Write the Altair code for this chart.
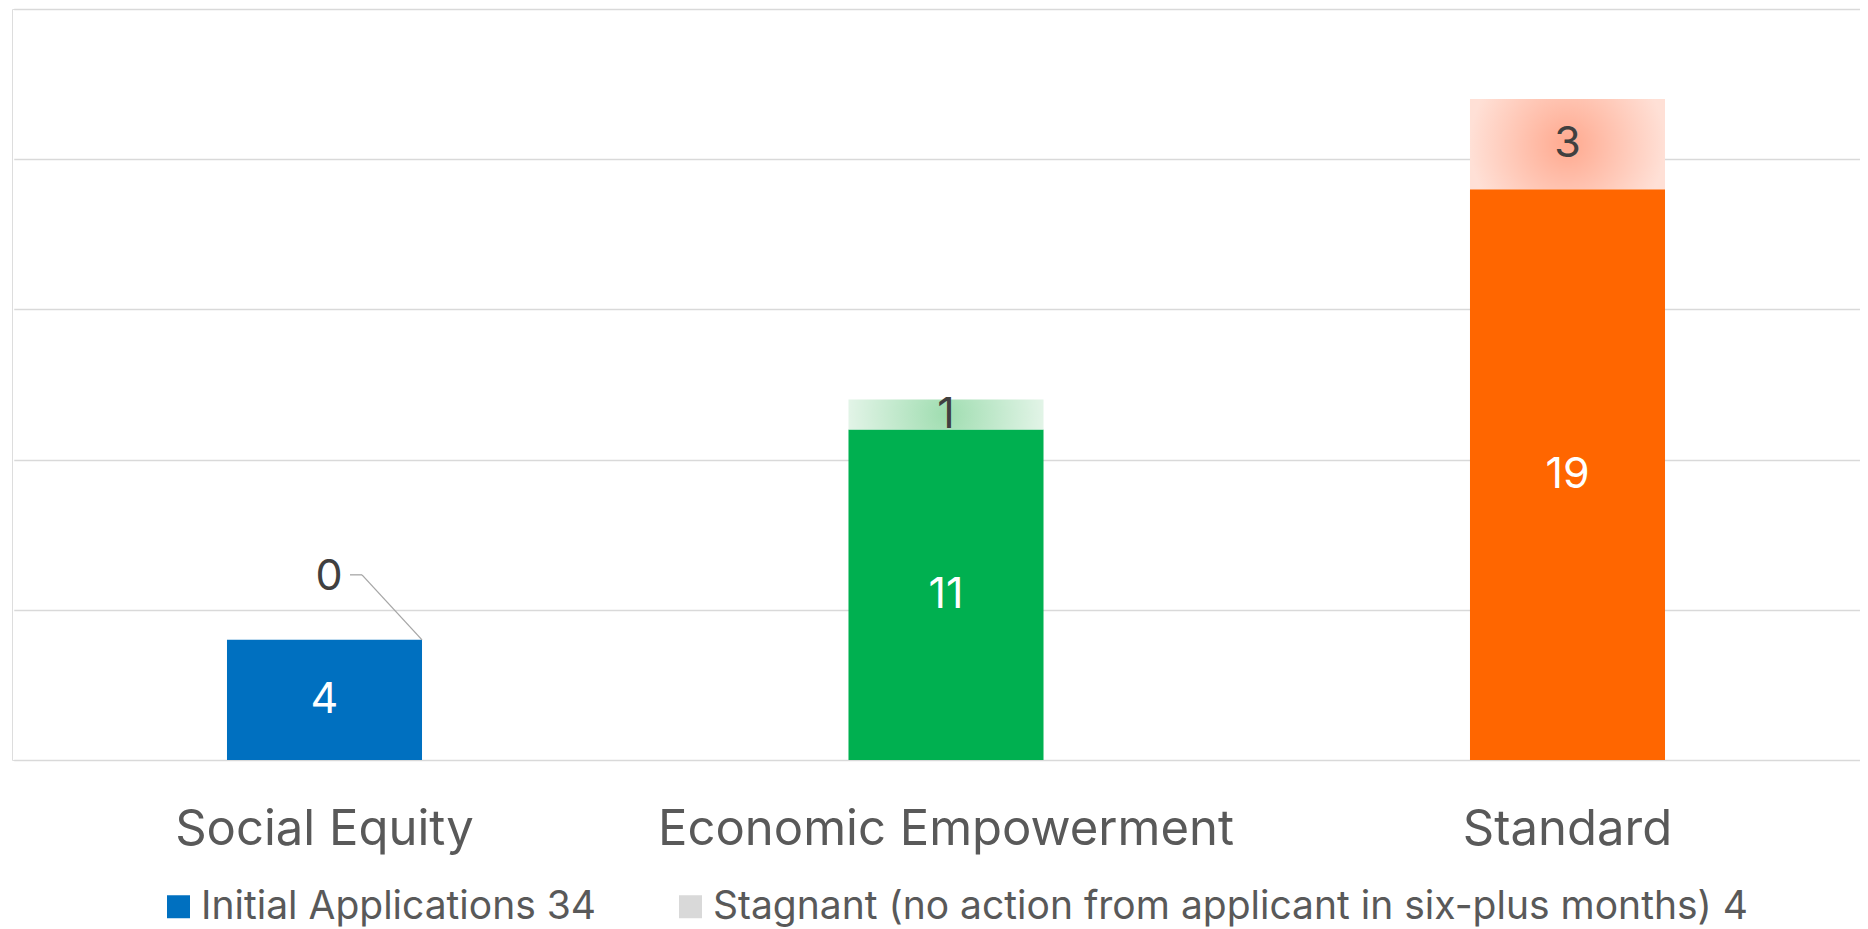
import altair as alt
import pandas as pd

# ---- data ----
categories = ["Social Equity", "Economic Empowerment", "Standard"]
initial = [4, 11, 19]
stagnant = [0, 1, 3]
bar_colors = ["#0070C0", "#00B050", "#FF6600"]
grad_center = ["#D9D9D9", "#9FDDB0", "#FFA98F"]
grad_edge = ["#F2F2F2", "#E2F4E7", "#FFE0D6"]
legend_labels = ["Initial Applications 34",
                 "Stagnant (no action from applicant in six-plus months) 4"]
legend_colors = ["#0070C0", "#D9D9D9"]

FONT = "Inter"

df = pd.DataFrame({
    "cat": categories,
    "initial": initial,
    "stagnant": stagnant,
    "color": bar_colors,
})
df["top"] = df["initial"] + df["stagnant"]
df["init_mid"] = df["initial"] / 2
df["stag_mid"] = df["initial"] + df["stagnant"] / 2

xscale = alt.Scale(domain=categories, range=[1.75, 1866.25],
                   paddingInner=0.6862, paddingOuter=0.3431)
yscale = alt.Scale(domain=[0, 25], nice=False, zero=True)

x_enc = alt.X("cat:N", scale=xscale, sort=categories, title=None,
              axis=alt.Axis(labelAngle=0, labelFont=FONT, labelFontSize=49,
                            labelColor="#595959", ticks=False, tickSize=0,
                            domain=False, labelPadding=84,
                            labelBaseline="alphabetic", grid=False,
                            labelLimit=0))
y_axis = alt.Axis(values=[0, 5, 10, 15, 20, 25], labels=False, ticks=False,
                  domain=False, grid=True, gridColor="#D9D9D9",
                  gridWidth=1.6, title=None)

base = alt.Chart(df)

init_bars = base.mark_bar().encode(
    x=x_enc,
    y=alt.Y("initial:Q", scale=yscale, axis=y_axis),
    y2=alt.datum(0),
    color=alt.Color("color:N", scale=None),
)

layers = [init_bars]

for i, c in enumerate(categories):
    if stagnant[i] <= 0:
        continue
    grad = {
        "gradient": "radial",
        "x1": 0.5, "y1": 0.5, "r1": 0,
        "x2": 0.5, "y2": 0.5, "r2": 0.5,
        "stops": [
            {"offset": 0, "color": grad_center[i]},
            {"offset": 1, "color": grad_edge[i]},
        ],
    }
    layers.append(
        base.transform_filter(alt.datum.cat == c).mark_bar(color=grad).encode(
            x=alt.X("cat:N", scale=xscale, sort=categories),
            y=alt.Y("top:Q", scale=yscale),
            y2="initial:Q",
        )
    )

init_text = base.mark_text(font=FONT, fontSize=43, color="#FFFFFF",
                           baseline="middle").encode(
    x=alt.X("cat:N", scale=xscale, sort=categories),
    y=alt.Y("init_mid:Q", scale=yscale),
    text="initial:Q",
)

stag_text = base.transform_filter(alt.datum.stagnant > 0).mark_text(
    font=FONT, fontSize=43, color="#404040", baseline="middle").encode(
    x=alt.X("cat:N", scale=xscale, sort=categories),
    y=alt.Y("stag_mid:Q", scale=yscale),
    text="stagnant:Q",
)

zero_text = base.transform_filter(alt.datum.stagnant == 0).mark_text(
    font=FONT, fontSize=43, color="#404040", baseline="middle",
    dx=4.5, dy=-63).encode(
    x=alt.X("cat:N", scale=xscale, sort=categories),
    y=alt.Y("top:Q", scale=yscale),
    text="stagnant:Q",
)

lead1 = base.transform_filter(alt.datum.stagnant == 0).mark_rule(
    color="#A6A6A6", strokeWidth=1.3,
    xOffset=97.5, x2Offset=37.5, yOffset=0, y2Offset=-65).encode(
    x=alt.X("cat:N", scale=xscale, sort=categories, bandPosition=0.5),
    x2=alt.X2("cat:N", bandPosition=0.5),
    y=alt.Y("top:Q", scale=yscale),
    y2="top:Q",
)
lead2 = base.transform_filter(alt.datum.stagnant == 0).mark_rule(
    color="#A6A6A6", strokeWidth=1.3,
    xOffset=37.5, x2Offset=25.5, yOffset=-65, y2Offset=-65).encode(
    x=alt.X("cat:N", scale=xscale, sort=categories, bandPosition=0.5),
    x2=alt.X2("cat:N", bandPosition=0.5),
    y=alt.Y("top:Q", scale=yscale),
    y2="top:Q",
)

leg_df = pd.DataFrame({"series": legend_labels})
legend_layer = alt.Chart(leg_df).mark_square(opacity=0, size=529).encode(
    color=alt.Color(
        "series:N",
        scale=alt.Scale(domain=legend_labels, range=legend_colors),
        legend=alt.Legend(
            title=None, orient="none", direction="horizontal",
            legendX=147, legendY=878, symbolType="square", symbolSize=529,
            symbolOpacity=1, symbolStrokeWidth=0, labelFont=FONT,
            labelFontSize=39, labelColor="#595959", labelOffset=3,
            columnPadding=74, labelLimit=0, padding=0,
        ),
    ),
)

layers += [init_text, stag_text, zero_text, lead1, lead2, legend_layer]

chart = alt.layer(*layers).properties(
    width=1848, height=751,
    padding={"left": 4, "top": 1, "right": 0, "bottom": 169},
    autosize=alt.AutoSizeParams(type="none"),
).configure_view(stroke=None).configure(background="#FFFFFF")

chart.save("out.html", embed_options={"renderer": "svg", "actions": False})
